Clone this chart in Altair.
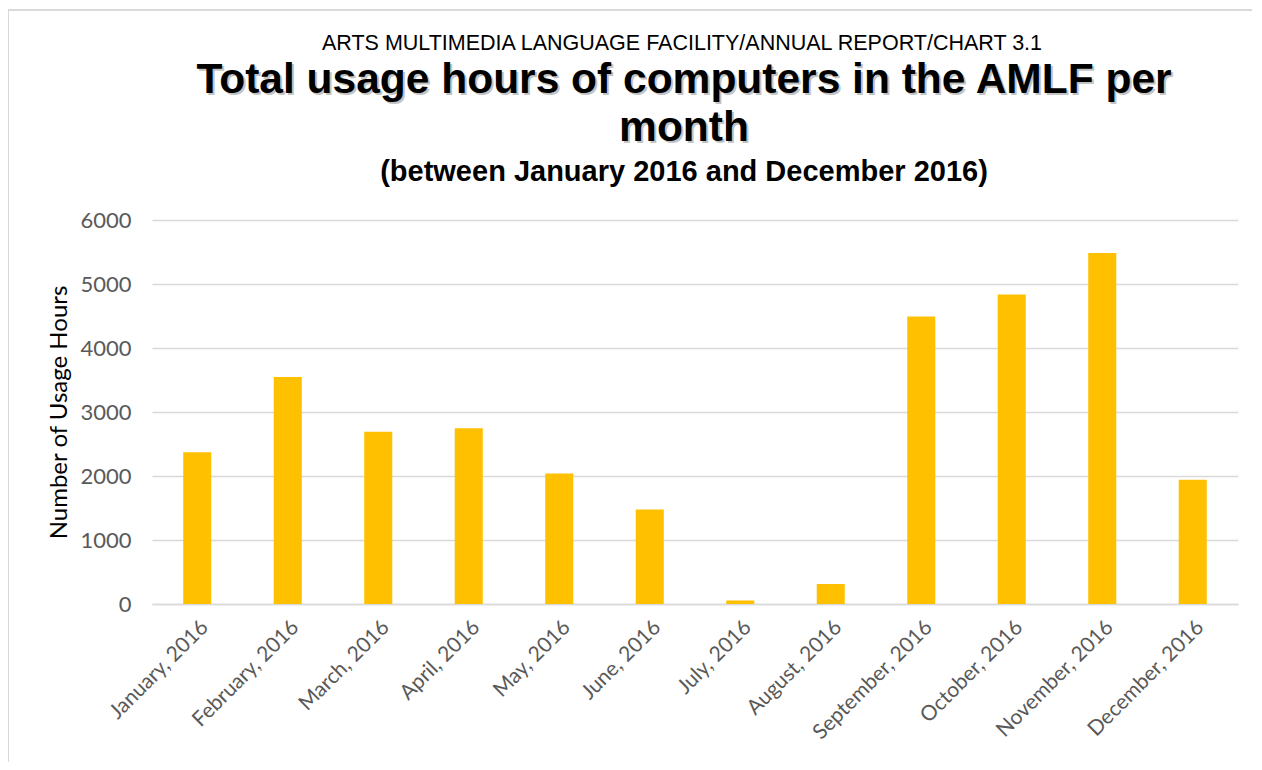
import altair as alt
import pandas as pd

months = ["January, 2016", "February, 2016", "March, 2016", "April, 2016", "May, 2016",
          "June, 2016", "July, 2016", "August, 2016", "September, 2016", "October, 2016",
          "November, 2016", "December, 2016"]
hours = [2370, 3545, 2690, 2745, 2040, 1477, 55, 312, 4492, 4836, 5484, 1943]

top_line = "ARTS MULTIMEDIA LANGUAGE FACILITY/ANNUAL REPORT/CHART 3.1"
title_lines = ["Total usage hours of computers in the AMLF per", "month"]
sub_line = "(between January 2016 and December 2016)"

df = pd.DataFrame({"month": months, "hours": hours})

W, H = 1086, 384
PAD = {"left": 144, "top": 212, "right": 14, "bottom": 158}

bars = alt.Chart(df).mark_bar(color="#FFC000").encode(
    x=alt.X("month:N", sort=months,
            scale=alt.Scale(paddingInner=0.69, paddingOuter=0.345),
            axis=alt.Axis(title=None, labelAngle=-45, labelAlign="right", labelBaseline="top",
                          labelFont="Lato", labelFontSize=21, labelColor="#595959",
                          labelPadding=12, ticks=False, domainColor="#d9d9d9", domainWidth=1.5,
                          grid=False)),
    y=alt.Y("hours:Q", scale=alt.Scale(domain=[0, 6000]),
            axis=alt.Axis(title="Number of Usage Hours", values=[0, 1000, 2000, 3000, 4000, 5000, 6000],
                          format="d",
                          labelFont="Lato", labelFontSize=22, labelColor="#595959", labelPadding=21,
                          titleFont="Lato", titleFontSize=24, titleFontWeight="normal", titleColor="#000000",
                          titlePadding=8, ticks=False, domain=False,
                          gridColor="#d9d9d9", gridWidth=1.5)),
)

def txt(text, x, y, size, weight="normal", color="#000000", font="Liberation Sans", opacity=1.0):
    return alt.Chart(pd.DataFrame({"t": [text]})).mark_text(
        font=font, fontSize=size, fontWeight=weight, color=color, align="center",
        baseline="middle", opacity=opacity
    ).encode(text="t:N", x=alt.value(x), y=alt.value(y))

one = pd.DataFrame({"k": [0]})
right_edge = W + PAD["right"]
bottom_edge = H + PAD["bottom"]
border_top = alt.Chart(one).mark_rule(color="#d9d9d9", strokeWidth=2).encode(
    x=alt.value(-144), x2=alt.value(right_edge), y=alt.value(-210))
border_left = alt.Chart(one).mark_rule(color="#d9d9d9", strokeWidth=2).encode(
    x=alt.value(-144), y=alt.value(-210), y2=alt.value(bottom_edge))

cx = 532
layers = [border_top, border_left, bars,
          txt(top_line, cx - 2, -176, 21.5),
          txt(title_lines[0], cx + 2, -138, 42.5, "bold", "#888888", opacity=0.5),
          txt(title_lines[0], cx, -140, 42.5, "bold"),
          txt(title_lines[1], cx + 2, -90, 42.5, "bold", "#888888", opacity=0.5),
          txt(title_lines[1], cx, -92, 42.5, "bold"),
          txt(sub_line, cx, -48, 29, "bold"),
          ]

chart = alt.layer(*layers).properties(
    width=W, height=H,
    autosize=alt.AutoSizeParams(type="none"),
    padding=PAD,
).configure_view(stroke=None)

chart.save("out.html", embed_options={"renderer": "svg", "actions": False})
